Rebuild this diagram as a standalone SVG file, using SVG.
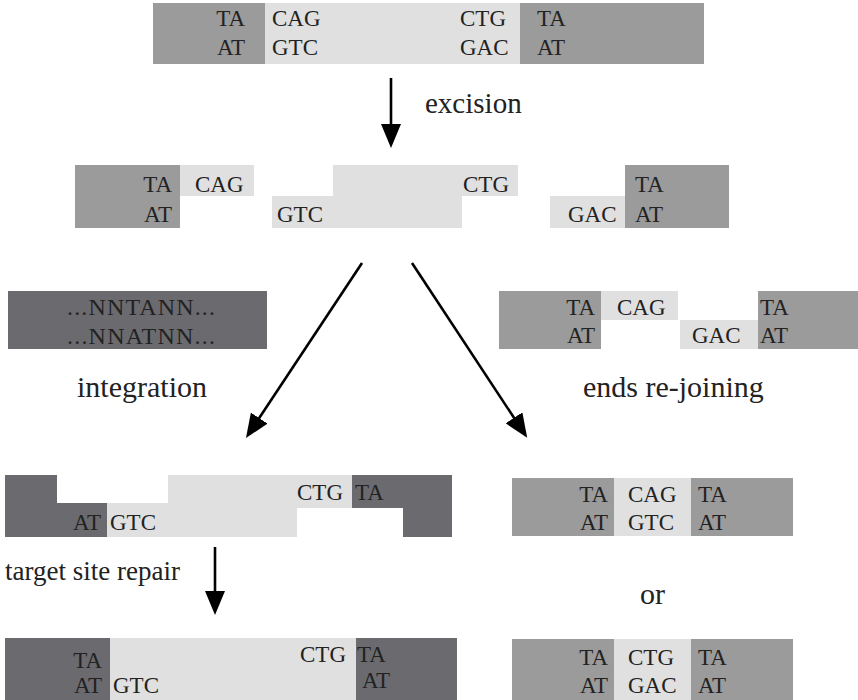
<svg xmlns="http://www.w3.org/2000/svg" width="858" height="700" viewBox="0 0 858 700">
<defs>
<style>
.lt{fill:#e0e0e0}
.md{fill:#9b9b9b}
.dk{fill:#6b6b6f}
text{font-family:"Liberation Serif","Times New Roman",serif;fill:#222}
.t{font-size:23px}
.e{text-anchor:end}
.m{text-anchor:middle}
.lab{font-size:30px}
.arr{stroke:#000;stroke-width:2.6;fill:none;marker-end:url(#ah)}
</style>
<marker id="ah" viewBox="0 0 24 20" refX="14" refY="10" markerWidth="24" markerHeight="20" markerUnits="userSpaceOnUse" orient="auto">
<path d="M0,0 L24,10 L0,20 Z" fill="#000"/>
</marker>
</defs>
<rect width="858" height="700" fill="#fff"/>

<g id="transposon-original">
<rect class="md" x="153" y="3" width="112" height="61"/>
<rect class="lt" x="265" y="3" width="255" height="61"/>
<rect class="md" x="520" y="3" width="184" height="61"/>
<text class="t e" x="245" y="26">TA</text>
<text class="t e" x="245" y="55">AT</text>
<text class="t" x="272" y="26">CAG</text>
<text class="t" x="272" y="55">GTC</text>
<text class="t" x="460" y="26">CTG</text>
<text class="t" x="460" y="55">GAC</text>
<text class="t" x="537" y="26">TA</text>
<text class="t" x="537" y="55">AT</text>
</g>

<g id="excised-left">
<rect class="md" x="75" y="165" width="105" height="63"/>
<rect class="lt" x="180" y="165" width="74" height="31"/>
<text class="t e" x="172" y="192">TA</text>
<text class="t e" x="172" y="222">AT</text>
<text class="t" x="195" y="192">CAG</text>
</g>

<g id="excised-transposon">
<path class="lt" d="M333,165 H518 V196 H462 V228 H272 V196 H333 Z"/>
<text class="t" x="277" y="222">GTC</text>
<text class="t" x="463" y="192">CTG</text>
</g>

<g id="excised-right">
<rect class="lt" x="550" y="196" width="75" height="32"/>
<rect class="md" x="625" y="165" width="104" height="63"/>
<text class="t" x="568" y="222">GAC</text>
<text class="t" x="635" y="192">TA</text>
<text class="t" x="635" y="222">AT</text>
</g>

<g id="target-site">
<rect class="dk" x="8" y="291" width="259" height="58"/>
<text class="t" x="67" y="315" style="font-size:24px" textLength="148" lengthAdjust="spacing">...NNTANN...</text>
<text class="t" x="67" y="344" style="font-size:24px" textLength="148" lengthAdjust="spacing">...NNATNN...</text>
</g>

<g id="rejoining-ends">
<rect class="md" x="499" y="291" width="102" height="58"/>
<rect class="lt" x="601" y="291" width="77" height="29"/>
<rect class="lt" x="680" y="320" width="78" height="29"/>
<rect class="md" x="758" y="291" width="100" height="58"/>
<text class="t e" x="595" y="315">TA</text>
<text class="t e" x="595" y="343">AT</text>
<text class="t" x="617" y="315">CAG</text>
<text class="t" x="692" y="343">GAC</text>
<text class="t" x="760" y="315">TA</text>
<text class="t" x="760" y="343">AT</text>
</g>

<g id="integrated">
<path class="dk" d="M5,475 H57 V503 H107 V537 H5 Z"/>
<path class="lt" d="M168,475 H352 V508 H297 V537 H107 V503 H168 Z"/>
<path class="dk" d="M352,475 H452 V537 H403 V508 H352 Z"/>
<text class="t e" x="101" y="530">AT</text>
<text class="t" x="110" y="530">GTC</text>
<text class="t" x="297" y="500">CTG</text>
<text class="t" x="355" y="500">TA</text>
</g>

<g id="rejoined-1">
<rect class="md" x="512" y="478" width="281" height="58"/>
<rect class="lt" x="614" y="478" width="77" height="58"/>
<text class="t e" x="608" y="502">TA</text>
<text class="t e" x="608" y="530">AT</text>
<text class="t" x="628" y="502">CAG</text>
<text class="t" x="628" y="530">GTC</text>
<text class="t" x="698" y="502">TA</text>
<text class="t" x="698" y="530">AT</text>
</g>

<g id="repaired">
<rect class="dk" x="5" y="638" width="105" height="62"/>
<rect class="lt" x="110" y="638" width="246" height="62"/>
<rect class="dk" x="356" y="638" width="101" height="62"/>
<text class="t e" x="102" y="668">TA</text>
<text class="t e" x="102" y="693">AT</text>
<text class="t" x="113" y="693">GTC</text>
<text class="t" x="300" y="662">CTG</text>
<text class="t" x="357" y="662">TA</text>
<text class="t" x="362" y="688">AT</text>
</g>

<g id="rejoined-2">
<rect class="md" x="512" y="639" width="281" height="61"/>
<rect class="lt" x="614" y="639" width="77" height="61"/>
<text class="t e" x="608" y="665">TA</text>
<text class="t e" x="608" y="693">AT</text>
<text class="t" x="628" y="665">CTG</text>
<text class="t" x="628" y="693">GAC</text>
<text class="t" x="698" y="665">TA</text>
<text class="t" x="698" y="693">AT</text>
</g>

<g id="connectors">
<line class="arr" x1="391" y1="78" x2="391" y2="138"/>
<line class="arr" x1="362" y1="263" x2="251.5" y2="429.7"/>
<line class="arr" x1="412" y1="263" x2="521.7" y2="429.5"/>
<line class="arr" x1="215" y1="547" x2="215" y2="605"/>
</g>

<g id="labels">
<text class="lab" x="425" y="113" style="font-size:29px">excision</text>
<text class="lab" x="77" y="397">integration</text>
<text class="lab" x="583" y="397">ends re-joining</text>
<text class="lab" x="5" y="580" style="font-size:27px">target site repair</text>
<text class="lab" x="640" y="604">or</text>
</g>
</svg>
